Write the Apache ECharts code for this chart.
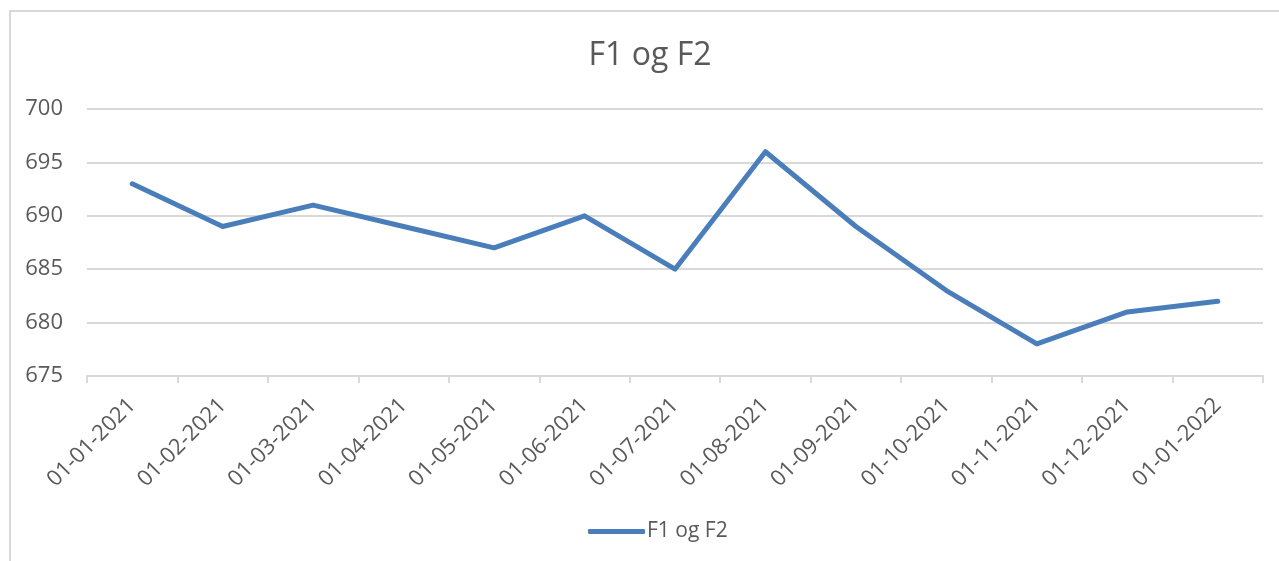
<!DOCTYPE html>
<html>
<head>
<meta charset="utf-8">
<style>
  html, body { margin: 0; padding: 0; background: #fff; overflow: hidden; }
  #frame { position: absolute; left: 9px; top: 10px; width: 1300px; height: 600px; border: 2px solid #d9d9d9; box-sizing: border-box; }
  #chart { position: absolute; left: 0; top: 0; width: 1279px; height: 561px; }
</style>
<script src="https://cdn.jsdelivr.net/npm/echarts@6/dist/echarts.min.js"></script>
</head>
<body>
<div id="frame"></div>
<div id="chart"></div>
<script>
const categories = [
    '01-01-2021', '01-02-2021', '01-03-2021', '01-04-2021', '01-05-2021', '01-06-2021', '01-07-2021',
    '01-08-2021', '01-09-2021', '01-10-2021', '01-11-2021', '01-12-2021', '01-01-2022'
];
const seriesName = 'F1 og F2';
const values = [693, 689, 691, 689, 687, 690, 685, 696, 689, 683, 678, 681, 682];
const yMin = 675;
const yMax = 700;
const yStep = 5;

const textColor = '#595959';
const gridColor = '#d9d9d9';
const lineColor = '#4a7ebb';
const fontFamily = '"Open Sans", sans-serif';

const chart = echarts.init(document.getElementById('chart'), null, { renderer: 'canvas' });

chart.setOption({
    animation: false,
    backgroundColor: 'transparent',
    title: {
        text: seriesName,
        left: 645,
        textAlign: 'center',
        top: 35,
        textStyle: { color: textColor, fontSize: 32, fontWeight: 'normal', fontFamily: fontFamily }
    },
    legend: {
        data: [seriesName],
        left: 583,
        top: 516,
        icon: 'roundRect',
        itemWidth: 57,
        itemHeight: 5,
        itemGap: 10,
        textStyle: { color: textColor, fontSize: 21, fontFamily: fontFamily, padding: [0, 0, 0, -3] }
    },
    grid: { left: 87, right: 16, top: 109, bottom: 185, containLabel: false },
    xAxis: {
        type: 'category',
        data: categories,
        boundaryGap: true,
        axisLine: { show: true, lineStyle: { color: gridColor, width: 2 } },
        axisTick: { show: true, length: 7, lineStyle: { color: gridColor, width: 2 } },
        axisLabel: { rotate: 45, margin: 26, interval: 0, color: textColor, fontSize: 22, fontFamily: fontFamily }
    },
    yAxis: {
        type: 'value',
        min: yMin,
        max: yMax,
        interval: yStep,
        axisLine: { show: false },
        axisTick: { show: false },
        splitLine: { lineStyle: { color: gridColor, width: 2 } },
        axisLabel: { margin: 24, color: textColor, fontSize: 22, fontFamily: fontFamily }
    },
    series: [{
        name: seriesName,
        type: 'line',
        data: values,
        symbol: 'none',
        itemStyle: { color: lineColor },
        lineStyle: { color: lineColor, width: 5, join: 'round', cap: 'round' }
    }]
});
</script>
</body>
</html>
